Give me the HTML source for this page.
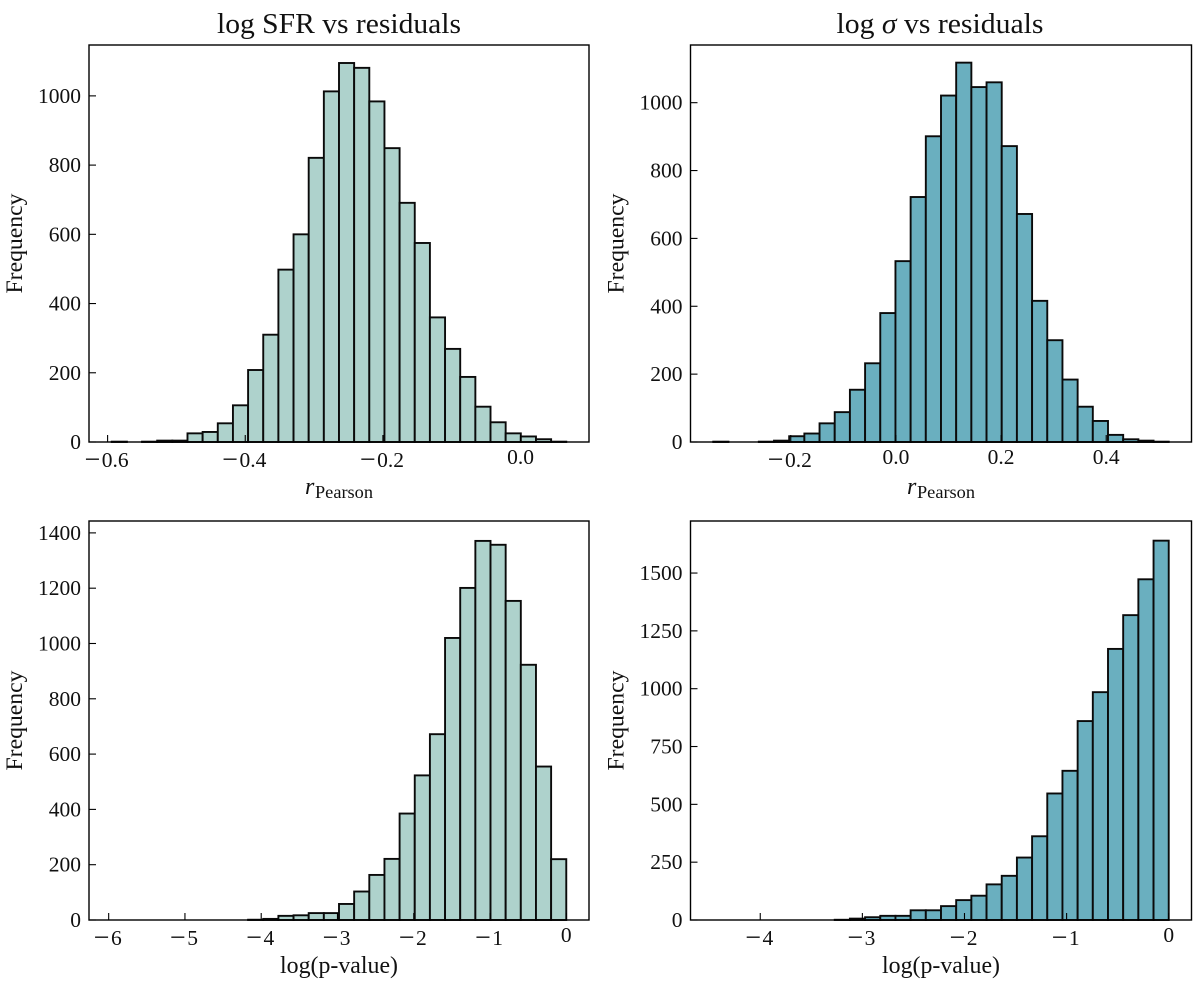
<!DOCTYPE html>
<html lang="en">
<head>
<meta charset="utf-8">
<title>Histograms of residual correlations</title>
<style>
html,body{margin:0;padding:0;background:#fff;width:1200px;height:988px;overflow:hidden}
svg{display:block;filter:blur(0.35px)}
text{font-family:"Liberation Serif",serif;fill:#111}
</style>
</head>
<body>
<svg id="figure" xmlns="http://www.w3.org/2000/svg" width="1200" height="988" viewBox="0 0 1200 988"></svg>
<script>
// Histogram counts (30 bins each)
const sfrPearsonCounts = [1,0,1,4,4,25,29,54,106,208,310,498,600,821,1013,1095,1081,984,849,691,575,360,269,188,102,57,25,16,8,1];
const sigmaPearsonCounts = [1,0,0,1,4,17,25,55,88,154,232,380,533,722,901,1021,1118,1046,1060,872,672,416,300,184,104,62,21,8,4,1];
const sfrPvalueCounts = [0,0,0,0,0,0,0,0,0,1,4,15,17,25,25,58,103,163,221,385,523,672,1020,1201,1371,1357,1154,923,555,220];
const sigmaPvalueCounts = [0,0,0,0,0,0,0,0,1,6,12,18,18,42,42,60,86,105,154,191,270,362,547,645,860,985,1172,1318,1473,1640];

// Tick labels / values
const sfrPearsonXTicks = [-0.6,-0.4,-0.2,0.0];
const sigmaPearsonXTicks = [-0.2,0.0,0.2,0.4];
const sfrPvalueXTicks = [-6,-5,-4,-3,-2,-1,0];
const sigmaPvalueXTicks = [-4,-3,-2,-1,0];
const sfrPearsonYTicks = [0,200,400,600,800,1000];
const sigmaPearsonYTicks = [0,200,400,600,800,1000];
const sfrPvalueYTicks = [0,200,400,600,800,1000,1200,1400];
const sigmaPvalueYTicks = [0,250,500,750,1000,1250,1500];

const NS = 'http://www.w3.org/2000/svg';
const figure = document.getElementById('figure');

function shape(parent, tag, attrs) {
  const el = document.createElementNS(NS, tag);
  for (const k in attrs) el.setAttribute(k, attrs[k]);
  parent.appendChild(el);
  return el;
}

function renderPanel(cfg) {
  const g = shape(figure, 'g', {});
  
  

  // axis functions: 5% margin either side of histogram range
  const span = cfg.histMax - cfg.histMin;
  const xMin = cfg.histMin - span * 0.05;
  const xMax = cfg.histMax + span * 0.05;
  const xScale = v => cfg.left + (v - xMin) / (xMax - xMin) * cfg.width;
  const yScale = v => cfg.top + cfg.height - v / cfg.yMax * cfg.height;
  const binWidth = span / cfg.counts.length;

  const bg = shape(g, 'rect', {x: cfg.left, y: cfg.top, width: cfg.width, height: cfg.height, fill: '#fff'});
  
  

  cfg.counts.forEach((count, i) => {
    const x0 = xScale(cfg.histMin + i * binWidth);
    const x1 = xScale(cfg.histMin + (i + 1) * binWidth);
    const y = yScale(count);
    const bar = shape(g, 'rect', {
      x: x0, y: y, width: x1 - x0, height: yScale(0) - y,
      fill: cfg.color, stroke: '#0a0a0a', 'stroke-width': count > 0 ? 1.9 : 1.2
    });
    
    
  });

  cfg.xTicks.forEach(v => {
    const x = xScale(v);
    const tick = shape(g, 'line', {x1: x, x2: x, y1: cfg.top + cfg.height, y2: cfg.top + cfg.height - 7, stroke: '#000', 'stroke-width': 1.1});
    
    
    const label = shape(g, 'text', {
      x: x - (v < 0 ? 1 : 0), y: cfg.top + cfg.height + (v < 0 ? cfg.xLabelDy + 3 : cfg.xLabelDy),
      'font-size': 21.5, 'text-anchor': 'middle'
    });
    if (v < 0) {
      const minus = shape(label, 'tspan', {'font-size': 28, dy: 1.5, 'letter-spacing': 1.5});
      minus.textContent = '\u2212';
      const digitsNeg = shape(label, 'tspan', {dy: -1.5});
      digitsNeg.textContent = Math.abs(v).toFixed(cfg.xDecimals);
    } else {
      const digits = shape(label, 'tspan', {});
      digits.textContent = v.toFixed(cfg.xDecimals);
    }
    
    
  });

  cfg.yTicks.forEach(v => {
    const y = yScale(v);
    const tick = shape(g, 'line', {x1: cfg.left, x2: cfg.left + 7, y1: y, y2: y, stroke: '#000', 'stroke-width': 1.1});
    
    
    const label = shape(g, 'text', {x: cfg.left - 8, y: y + 7, 'font-size': 21.5, 'text-anchor': 'end'});
    label.textContent = String(v);
    
    
  });

  const frame = shape(g, 'rect', {x: cfg.left, y: cfg.top, width: cfg.width, height: cfg.height, fill: 'none', stroke: '#000', 'stroke-width': 1.4});
  
  

  const yTitle = shape(g, 'text', {
    transform: 'translate(' + (cfg.left - 67) + ',' + (cfg.top + cfg.height / 2) + ') rotate(-90)',
    'font-size': 23.5, 'text-anchor': 'middle', textLength: 100, lengthAdjust: 'spacingAndGlyphs'
  });
  yTitle.textContent = 'Frequency';
  
  

  const cx = cfg.left + cfg.width / 2;
  if (cfg.xTitle === 'pearson') {
    const r = shape(g, 'text', {x: cx - 34, y: cfg.top + cfg.height + 52, 'font-size': 24, 'font-style': 'italic'});
    r.textContent = 'r';
    
    
    const sub = shape(g, 'text', {x: cx - 24, y: cfg.top + cfg.height + 56, 'font-size': 18, textLength: 58, lengthAdjust: 'spacingAndGlyphs'});
    sub.textContent = 'Pearson';
    
    
  } else {
    const t = shape(g, 'text', {x: cx, y: cfg.top + cfg.height + 53, 'font-size': 24, 'text-anchor': 'middle', textLength: 118, lengthAdjust: 'spacingAndGlyphs'});
    t.textContent = 'log(p-value)';
    
    
  }
}

const lightColor = '#aed2cc';
const darkColor = '#6aafbf';

renderPanel({name:'panel-sfr-pearson', left:89, top:45, width:500, height:397, counts:sfrPearsonCounts, histMin:-0.594, histMax:0.0664, yMax:1147, xTicks:sfrPearsonXTicks, yTicks:sfrPearsonYTicks, xDecimals:1, xLabelDy:22, color:lightColor, xTitle:'pearson'});
renderPanel({name:'panel-sigma-pearson', left:690.5, top:45, width:501, height:397, counts:sigmaPearsonCounts, histMin:-0.3474, histMax:0.5189, yMax:1170, xTicks:sigmaPearsonXTicks, yTicks:sigmaPearsonYTicks, xDecimals:1, xLabelDy:22, color:darkColor, xTitle:'pearson'});
renderPanel({name:'panel-sfr-pvalue', left:89, top:521, width:500, height:399, counts:sfrPvalueCounts, histMin:-5.96, histMax:0, yMax:1443, xTicks:sfrPvalueXTicks, yTicks:sfrPvalueYTicks, xDecimals:0, xLabelDy:22, color:lightColor, xTitle:'pvalue'});
renderPanel({name:'panel-sigma-pvalue', left:690.5, top:521, width:501, height:399, counts:sigmaPvalueCounts, histMin:-4.46, histMax:0, yMax:1725, xTicks:sigmaPvalueXTicks, yTicks:sigmaPvalueYTicks, xDecimals:0, xLabelDy:22, color:darkColor, xTitle:'pvalue'});

const title1 = shape(figure, 'text', {x: 339, y: 33, 'font-size': 28, 'text-anchor': 'middle', textLength: 244, lengthAdjust: 'spacingAndGlyphs'});
title1.textContent = 'log SFR vs residuals';



const title2 = shape(figure, 'text', {x: 940, y: 33, 'font-size': 28, 'text-anchor': 'middle', textLength: 207, lengthAdjust: 'spacingAndGlyphs'});
title2.innerHTML = 'log <tspan font-style="italic">\u03C3</tspan> vs residuals';


</script>
</body>
</html>
